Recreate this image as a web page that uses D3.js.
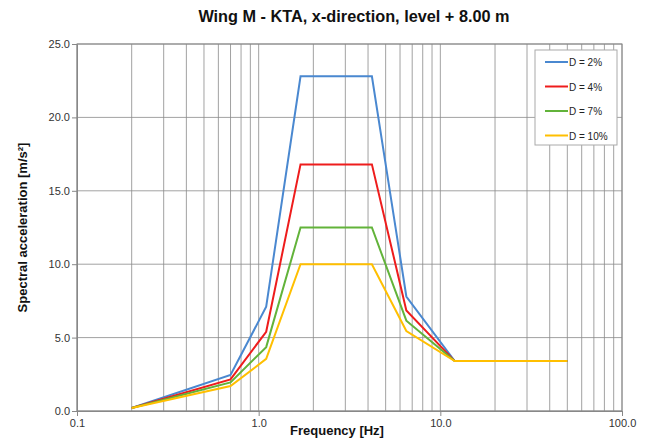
<!DOCTYPE html>
<html>
<head>
<meta charset="utf-8">
<script src="https://cdn.jsdelivr.net/npm/d3@7"></script>
<style>
  body { margin: 0; background: #fff; }
  text { font-family: "Liberation Sans", Arial, sans-serif; }
</style>
</head>
<body>
<svg id="chart"></svg>
<script>
// frequencies [Hz]
const freqs = [0.2, 0.7, 1.1, 1.7, 4.2, 6.5, 12, 50];
// spectral acceleration per damping ratio [m/s²]
const d2 = [0.2, 2.45, 7.1, 22.8, 22.8, 7.8, 3.4, 3.4];
const d4 = [0.2, 2.15, 5.4, 16.8, 16.8, 6.85, 3.4, 3.4];
const d7 = [0.2, 1.95, 4.35, 12.5, 12.5, 6.15, 3.4, 3.4];
const d10 = [0.2, 1.7, 3.55, 10.0, 10.0, 5.45, 3.4, 3.4];
const seriesNames = ['D = 2%', 'D = 4%', 'D = 7%', 'D = 10%'];
const seriesColors = ['#4a88d0', '#ee1c1c', '#62b33a', '#ffbf00'];
const yTicks = [0, 5, 10, 15, 20, 25];
const xTicks = [0.1, 1, 10, 100];

const width = 649, height = 441;
const margin = {top: 44, right: 27, bottom: 30, left: 77};
const innerW = width - margin.left - margin.right;
const innerH = height - margin.top - margin.bottom;

const svg = d3.select('#chart').attr('width', width).attr('height', height);
const g = svg.append('g').attr('transform', `translate(${margin.left},${margin.top})`);

const x = d3.scaleLog().domain([0.1, 100]).range([0, innerW]);
const y = d3.scaleLinear().domain([0, 25]).range([innerH, 0]);

// minor vertical grid 2..9 of each decade, plus decades
const vGrid = [];
[0.1, 1, 10].forEach(dec => { for (let k = 1; k <= 9; k++) vGrid.push(dec * k); });
vGrid.push(100);
g.append('g').selectAll('line').data(vGrid).join('line')
    .attr('x1', d => x(d)).attr('x2', d => x(d))
    .attr('y1', 0).attr('y2', innerH)
    .attr('stroke', '#8c8c8c').attr('stroke-width', 1).attr('opacity', 0.8);

g.append('g').selectAll('line').data(yTicks).join('line')
    .attr('x1', 0).attr('x2', innerW)
    .attr('y1', d => y(d)).attr('y2', d => y(d))
    .attr('stroke', '#8c8c8c').attr('stroke-width', 1).attr('opacity', 0.8);

g.append('rect').attr('width', innerW).attr('height', innerH)
    .attr('fill', 'none').attr('stroke', '#888');

// axes
const yAxis = d3.axisLeft(y).tickValues(yTicks).tickFormat(d3.format('.1f')).tickSize(5).tickSizeOuter(0);
const ya = g.append('g').call(yAxis);
const xAxis = d3.axisBottom(x).tickValues(xTicks).tickFormat(d3.format('.1f')).tickSize(5).tickSizeOuter(0);
const xa = g.append('g').attr('transform', `translate(0,${innerH})`).call(xAxis);
[ya, xa].forEach(a => {
    a.select('.domain').attr('stroke', '#888');
    a.selectAll('.tick line').attr('stroke', '#888');
    a.selectAll('.tick text').attr('fill', '#333').style('font-size', '11px')
        .style('font-family', '"Liberation Sans", Arial, sans-serif');
});
ya.selectAll('.tick text').attr('x', -7);

// lines
const allSeries = [d2, d4, d7, d10];
const line = d3.line().x((d, i) => x(freqs[i])).y(d => y(d));
g.append('g').selectAll('path').data(allSeries).join('path')
    .attr('d', d => line(d))
    .attr('fill', 'none')
    .attr('stroke', (d, i) => seriesColors[i])
    .attr('stroke-width', 2);

// legend
const lg = svg.append('g').attr('transform', 'translate(535,50)');
lg.append('rect').attr('width', 82).attr('height', 95)
    .attr('fill', '#fff').attr('stroke', '#aaa');
seriesNames.forEach((name, i) => {
    const yy = 12 + i * 24.5;
    lg.append('line').attr('x1', 10).attr('x2', 33).attr('y1', yy).attr('y2', yy)
        .attr('stroke', seriesColors[i]).attr('stroke-width', 2);
    lg.append('text').attr('x', 34).attr('y', yy + 4).text(name)
        .style('font-size', '10px').attr('fill', '#222');
});

// titles
svg.append('text').attr('x', 354).attr('y', 22).attr('text-anchor', 'middle')
    .style('font-size', '16.3px').style('font-weight', 'bold').attr('fill', '#111')
    .text('Wing M - KTA, x-direction, level + 8.00 m');
svg.append('text').attr('x', 337).attr('y', 435).attr('text-anchor', 'middle')
    .style('font-size', '13px').style('font-weight', 'bold').attr('fill', '#111')
    .text('Frequency [Hz]');
svg.append('text').attr('transform', `translate(27,${margin.top + innerH / 2}) rotate(-90)`)
    .attr('text-anchor', 'middle')
    .style('font-size', '13px').style('font-weight', 'bold').attr('fill', '#111')
    .text('Spectral acceleration [m/s²]');
</script>
</body>
</html>
